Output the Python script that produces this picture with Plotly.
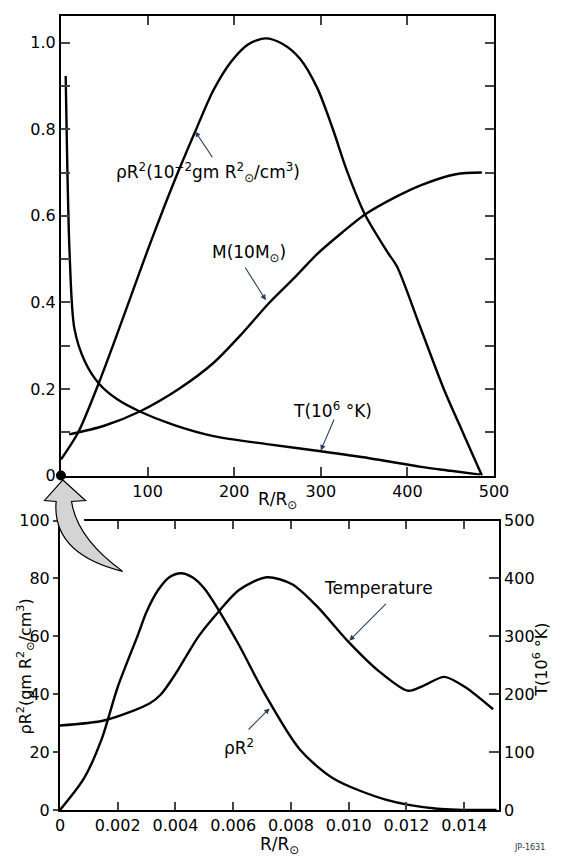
import plotly.graph_objects as go

W, H = 564, 866

# ---------------- data: top panel (R/R_sun 0..500) ----------------
top_rho_R = [0, 20, 44, 60, 80, 100, 120, 137, 154, 176, 196, 216, 236, 256, 276, 296, 314, 330, 351, 378, 388, 415, 442, 465, 486]
top_rho_v = [0.037, 0.10, 0.215, 0.30, 0.41, 0.52, 0.625, 0.71, 0.79, 0.89, 0.955, 0.996, 1.010, 0.997, 0.963, 0.895, 0.80, 0.705, 0.603, 0.513, 0.483, 0.342, 0.20, 0.095, 0.0]

top_M_R = [9.5, 50, 91, 136, 176, 210, 240, 270, 296, 325, 351, 385, 416, 456, 486]
top_M_v = [0.095, 0.115, 0.148, 0.20, 0.26, 0.33, 0.398, 0.458, 0.512, 0.562, 0.603, 0.642, 0.671, 0.696, 0.70]

top_T_R = [5.5, 10, 15.5, 27.5, 44, 65, 91, 130, 176, 240, 300, 356, 416, 450, 484]
top_T_v = [0.923, 0.513, 0.34, 0.264, 0.212, 0.176, 0.148, 0.117, 0.091, 0.072, 0.056, 0.040, 0.020, 0.011, 0.002]

top_x_ticks = [100, 200, 300, 400, 500]
top_y_ticks = [0, 0.1, 0.2, 0.3, 0.4, 0.5, 0.6, 0.7, 0.8, 0.9, 1.0]
top_y_text = ["0", "", "0.2", "", "0.4", "", "0.6", "", "0.8", "", "1.0"]

# ---------------- data: bottom panel (R/R_sun 0..0.015) ----------------
bot_rho_x = [0, 0.00083, 0.00144, 0.0020, 0.0027, 0.0030, 0.0034, 0.0038, 0.0042, 0.0046, 0.0050, 0.0055, 0.0062, 0.0071, 0.0083, 0.00947, 0.01128, 0.01307, 0.01512]
bot_rho_v = [0, 10.9, 24.4, 42.5, 60.5, 68.5, 76.0, 80.5, 81.8, 80.3, 76.5, 69.0, 57.0, 40.0, 21.0, 10.9, 3.6, 0.45, 0]

bot_T_x = [0, 0.00156, 0.0031, 0.0035, 0.0040, 0.0044, 0.0048, 0.0055, 0.0062, 0.00716, 0.00804, 0.00888, 0.0100, 0.01104, 0.01205, 0.0126, 0.01331, 0.01404, 0.0150]
bot_T_v = [146, 155, 184, 200, 235, 268, 300, 343, 380, 402, 390, 353, 290, 240, 206, 215, 230, 212, 174]

bot_x_ticks = [0, 0.002, 0.004, 0.006, 0.008, 0.010, 0.012, 0.014]
bot_x_text = ["0", "0.002", "0.004", "0.006", "0.008", "0.010", "0.012", "0.014"]
bot_yl_ticks = [0, 20, 40, 60, 80, 100]
bot_yr_ticks = [0, 100, 200, 300, 400, 500]

FONT = "DejaVu Sans"
LW = 2.4


def pxx(x):
    return x / W


def pyy(y):
    return 1 - y / H


fig = go.Figure()

line = dict(color="black", width=LW, shape="spline", smoothing=0.8)
fig.add_trace(go.Scatter(x=top_rho_R, y=top_rho_v, mode="lines", line=line, xaxis="x", yaxis="y"))
fig.add_trace(go.Scatter(x=top_M_R, y=top_M_v, mode="lines", line=line, xaxis="x", yaxis="y"))
fig.add_trace(go.Scatter(x=top_T_R, y=top_T_v, mode="lines", line=line, xaxis="x", yaxis="y"))
fig.add_trace(go.Scatter(x=[0], y=[0], mode="markers", marker=dict(color="black", size=10),
                         cliponaxis=False, xaxis="x", yaxis="y"))

fig.add_trace(go.Scatter(x=bot_rho_x, y=bot_rho_v, mode="lines", line=line, xaxis="x2", yaxis="y2"))
fig.add_trace(go.Scatter(x=bot_T_x, y=bot_T_v, mode="lines", line=line, xaxis="x2", yaxis="y3"))

axfont = dict(family=FONT, size=16, color="black")

fig.update_layout(
    width=W, height=H,
    margin=dict(l=0, r=0, t=0, b=0, pad=0),
    paper_bgcolor="white", plot_bgcolor="white",
    showlegend=False,
    font=dict(family=FONT, size=16, color="black"),
    xaxis=dict(domain=[58 / W, 507 / W], range=[0, 500], anchor="y",
               tickvals=top_x_ticks, ticks="inside", ticklen=9, tickwidth=1.5,
               showline=True, linewidth=2, linecolor="black", mirror="ticks",
               showgrid=False, zeroline=False, tickfont=axfont),
    yaxis=dict(domain=[pyy(477), pyy(7)], range=[0, 1.062], anchor="x",
               tickvals=top_y_ticks, ticktext=top_y_text, ticks="inside", ticklen=9, tickwidth=1.5,
               showline=True, linewidth=2, linecolor="black", mirror="ticks",
               showgrid=False, zeroline=False, tickfont=axfont),
    xaxis2=dict(domain=[57 / W, 512 / W], range=[0, 0.0152], anchor="y2",
                tickvals=bot_x_ticks, ticktext=bot_x_text, ticks="inside", ticklen=8, tickwidth=1.5,
                showline=True, linewidth=2, linecolor="black", mirror="ticks",
                showgrid=False, zeroline=False, tickfont=axfont),
    yaxis2=dict(domain=[pyy(819), pyy(523)], range=[0, 100], anchor="x2",
                tickvals=bot_yl_ticks, ticks="outside", ticklen=5, tickwidth=1.5,
                showline=True, linewidth=2, linecolor="black", mirror=False,
                showgrid=False, zeroline=False, tickfont=axfont),
    yaxis3=dict(range=[0, 500], overlaying="y2", side="right", anchor="x2",
                tickvals=bot_yr_ticks, ticks="inside", ticklen=10, tickwidth=1.5,
                showline=True, linewidth=2, linecolor="black",
                showgrid=False, zeroline=False, tickfont=axfont),
)

# white patch to open the corner of the lower frame, then the curved pointer arrow
shapes = [
    dict(type="rect", xref="paper", yref="paper", x0=pxx(54), x1=pxx(82), y0=pyy(529), y1=pyy(516),
         fillcolor="white", line=dict(width=0), layer="above"),
]
path = ("M {} {} L {} {} L {} {} Q {} {} {} {} Q {} {} {} {} L {} {} Z").format(
    pxx(60), pyy(481.5), pxx(83.5), pyy(502.5), pxx(69), pyy(503.5),
    pxx(74.5), pyy(541), pxx(122), pyy(575),
    pxx(48.5), pyy(557), pxx(53), pyy(503.5),
    pxx(41), pyy(502.5))
shapes.append(dict(type="path", xref="paper", yref="paper", path=path,
                   fillcolor="#d4d4d4", line=dict(color="black", width=1.2), layer="above"))
fig.update_layout(shapes=shapes)

lab = dict(family=FONT, size=17, color="black")
lab16 = dict(family=FONT, size=16, color="black")
C = dict(xanchor="center", yanchor="middle", showarrow=False)
arr = dict(text="", showarrow=True, arrowhead=2, arrowsize=1, arrowwidth=1.1, standoff=0)
ann = []
# top panel labels
ann.append(dict(x=170, y=0.70, xref="x", yref="y", font=lab,
                text="ρR<sup>2</sup>(10<sup>−2</sup>gm R<sup>2</sup><sub>⊙</sub>/cm<sup>3</sup>)", **C))
ann.append(dict(x=155, y=0.795, ax=176, ay=0.732, xref="x", yref="y", axref="x", ayref="y", **arr))
ann.append(dict(x=217, y=0.513, xref="x", yref="y", font=lab, text="M(10M<sub>⊙</sub>)", **C))
ann.append(dict(x=236.6, y=0.405, ax=211.6, ay=0.484, xref="x", yref="y", axref="x", ayref="y", **arr))
ann.append(dict(x=313, y=0.151, xref="x", yref="y", font=lab, text="T(10<sup>6</sup> °K)", **C))
ann.append(dict(x=300, y=0.058, ax=316, ay=0.133, xref="x", yref="y", axref="x", ayref="y", **arr))
# bottom panel labels
ann.append(dict(x=0.01104, y=76.7, xref="x2", yref="y2", font=lab, text="Temperature", **C))
ann.append(dict(x=0.01002, y=58.5, ax=0.01134, ay=71.7, xref="x2", yref="y2", axref="x2", ayref="y2", **arr))
ann.append(dict(x=0.0062, y=21.6, xref="x2", yref="y2", font=lab, text="ρR<sup>2</sup>", **C))
ann.append(dict(x=0.00726, y=35.1, ax=0.00648, ay=27.3, xref="x2", yref="y2", axref="x2", ayref="y2", **arr))
# axis titles
ann.append(dict(x=0.5, y=pyy(503), xref="x domain", yref="paper", font=lab, text="R/R<sub>⊙</sub>", **C))
ann.append(dict(x=0.5, y=pyy(855), xref="x2 domain", yref="paper", font=lab, text="R/R<sub>⊙</sub>", **C))
ann.append(dict(x=pxx(21), y=pyy(672), xref="paper", yref="paper", font=lab16, textangle=-90,
                text="ρR<sup>2</sup>(gm R<sup>2</sup><sub>⊙</sub>/cm<sup>3</sup>)", **C))
ann.append(dict(x=pxx(555), y=pyy(665), xref="paper", yref="paper", font=lab16, textangle=-90,
                text="T(10<sup>6</sup> °K)", **C))
ann.append(dict(x=pxx(544), y=pyy(857), xref="paper", yref="paper",
                font=dict(family=FONT, size=8, color="#333"), text="JP-1631", **C))
fig.update_layout(annotations=ann)

fig.write_html("out.html")
